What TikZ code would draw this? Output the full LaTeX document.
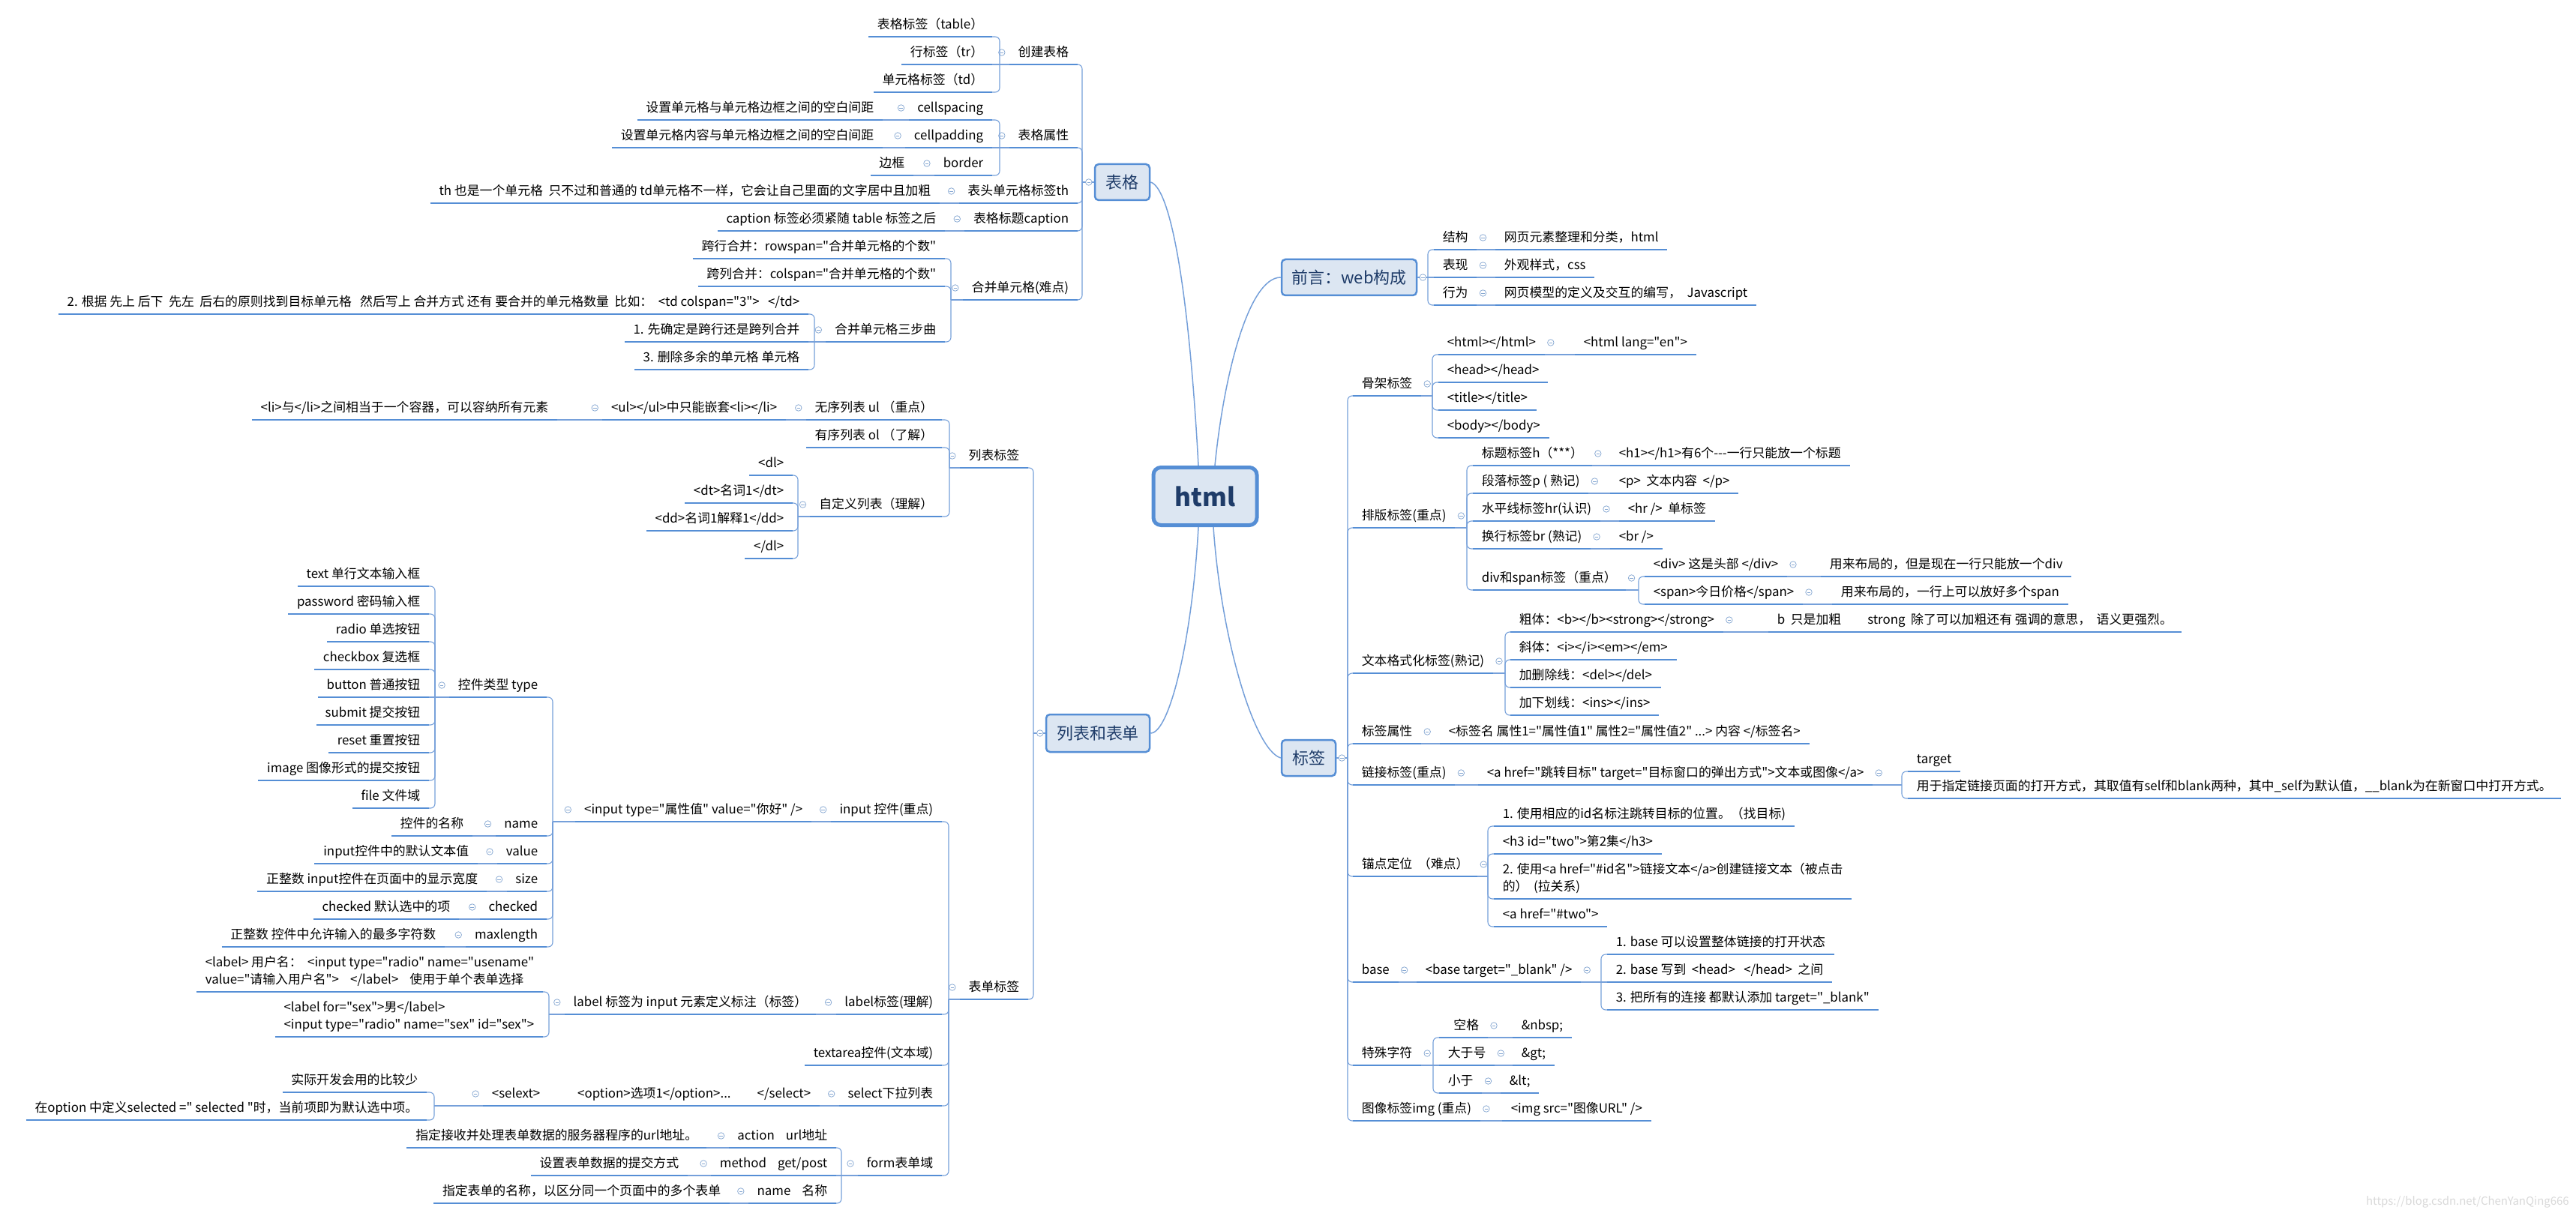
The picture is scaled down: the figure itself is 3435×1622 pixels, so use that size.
\documentclass[tikz,border=0pt]{standalone}
\usepackage{fontspec}
\setmainfont{Noto Sans CJK SC}[Ligatures=TeXOff]
\usetikzlibrary{calc}
\definecolor{ulc}{RGB}{85,142,213}
\definecolor{connc}{RGB}{118,160,218}
\definecolor{clc}{RGB}{135,168,210}
\definecolor{boxfill}{RGB}{220,230,242}
\definecolor{boxtext}{RGB}{31,60,105}
\newcommand\subfont{\fontsize{9.6}{13.1}\selectfont}
\newcommand\boxfont{\fontsize{12.5}{15}\selectfont}
\newcommand\htmlfont{\fontsize{19}{22}\selectfont\bfseries}
\tikzset{
  tbase/.style={inner xsep=2.3mm, inner ysep=1.1mm, font=\subfont, text=black, text depth=0.85mm},
  topic/.style={tbase, text height=2.55mm},
  mtopic/.style={tbase, align=left},
  ul/.style={draw=ulc, line width=0.55mm},
  conn/.style={draw=connc, line width=0.22mm},
  mconn/.style={draw=connc, line width=0.3mm},
  cl/.style={circle, draw=clc, fill=white, line width=0.15mm, minimum size=1.7mm, inner sep=0pt,
    path picture={\draw[clc, line width=0.15mm] ([xshift=-0.45mm]path picture bounding box.center) -- ([xshift=0.45mm]path picture bounding box.center);}},
  mbox/.style={draw=ulc, fill=boxfill, line width=0.5mm, rounded corners=1mm, font=\boxfont, text=boxtext, inner sep=0pt},
  hbox/.style={draw=ulc, fill=boxfill, line width=1mm, rounded corners=2mm, font=\htmlfont, text=boxtext, inner sep=0pt, minimum width=27.6mm, minimum height=15.4mm},
  wm/.style={font=\fontsize{8.5}{10}\selectfont, text=black!15, anchor=east, inner sep=0pt},
}
\newcommand\xLT[3]{\node[topic,anchor=south east] (#1) at (#2) {#3};\draw[ul] (#1.south west) -- (#1.south east);}
\newcommand\xLM[3]{\node[mtopic,anchor=south east] (#1) at (#2) {#3};\draw[ul] (#1.south west) -- (#1.south east);}
\newcommand\xRT[3]{\node[topic,anchor=south west] (#1) at (#2) {#3};\draw[ul] (#1.south west) -- (#1.south east);}
\newcommand\xRM[3]{\node[mtopic,anchor=south west] (#1) at (#2) {#3};\draw[ul] (#1.south west) -- (#1.south east);}
\newcommand\xLP[2]{\coordinate (#1-j) at (#2,0 |- #1.south west);\draw[conn] (#1.south west) -- (#1-j);\node[cl] (#1-c) at ([xshift=-2mm,yshift=3.2mm]#1.south west) {};}
\newcommand\xRP[2]{\coordinate (#1-j) at (#2,0 |- #1.south east);\draw[conn] (#1.south east) -- (#1-j);\node[cl] (#1-c) at ([xshift=1.6mm,yshift=3.2mm]#1.south east) {};}
\newcommand\xLC[2]{\draw[conn,rounded corners=1.2mm] (#1-j) |- (#2.south east);}
\newcommand\xRC[2]{\draw[conn,rounded corners=1.2mm] (#1-j) |- (#2.south west);}
\newcommand\xLS[2]{\draw[conn] (#1-j) -- (#2.south east);}
\newcommand\xRS[2]{\draw[conn] (#1-j) -- (#2.south west);}
\newcommand\xLH[2]{\draw[conn] (#1.south west) -- (#2.south east);\node[cl] (#1-c) at ([xshift=-2mm,yshift=3.2mm]#1.south west) {};}
\newcommand\xRH[2]{\draw[conn] (#1.south east) -- (#2.south west);\node[cl] (#1-c) at ([xshift=1.6mm,yshift=3.2mm]#1.south east) {};}
\begin{document}
\begin{tikzpicture}[x=0.2mm, y=-0.2mm]
\fill[white] (0,0) rectangle (3435,1622);
\useasboundingbox (0,0) rectangle (3435,1622);

% ===== center and main boxes =====
\node[hbox] (H) at (1607,662) {html};
\node[mbox, minimum width=14.6mm, minimum height=9.6mm] (T) at (1496.5,243) {表格};
\node[mbox, minimum width=27.6mm, minimum height=10mm] (L) at (1464,978) {列表和表单};
\node[mbox, minimum width=36mm, minimum height=9.6mm] (W) at (1799,370) {前言：web构成};
\node[mbox, minimum width=14.4mm, minimum height=9.6mm] (B) at (1745,1011) {标签};
\draw[mconn] ([xshift=-1.8mm]H.north) .. controls (1585,380) and (1560,250) .. (T.east);
\draw[mconn] ([xshift=2.6mm]H.north) .. controls (1632,500) and (1665,370) .. (W.west);
\draw[mconn] ([xshift=-1.8mm]H.south) .. controls (1590,850) and (1560,978) .. (L.east);
\draw[mconn] ([xshift=2.2mm]H.south) .. controls (1628,850) and (1672,1000) .. (B.west);

% ===== 表格 =====
\xLT{t1}{1437,86}{创建表格}
\xLT{t2}{1437,197}{表格属性}
\xLT{t3}{1437,271}{表头单元格标签th}
\xLT{t4}{1437,308}{表格标题caption}
\xLT{t5}{1437,400}{合并单元格(难点)}
\coordinate (T-j) at (1443,243);
\draw[conn] (T.west) -- (T-j);
\xLC{T}{t1}\xLC{T}{t2}\xLC{T}{t3}\xLC{T}{t4}\xLC{T}{t5}
\node[cl] (T-c) at ([xshift=-1.4mm]T.west) {};

\xLT{t11}{1323,49}{表格标签（table）}
\xLT{t12}{1323,86}{行标签（tr）}
\xLT{t13}{1323,123}{单元格标签（td）}
\xLP{t1}{1333}
\xLC{t1}{t11}\xLS{t1}{t12}\xLC{t1}{t13}

\xLT{t21}{1323,160}{cellspacing}
\xLT{t22}{1323,197}{cellpadding}
\xLT{t23}{1323,234}{border}
\xLP{t2}{1333}
\xLC{t2}{t21}\xLS{t2}{t22}\xLC{t2}{t23}
\xLT{t211}{1177,160}{设置单元格与单元格边框之间的空白间距}\xLH{t21}{t211}
\xLT{t221}{1177,197}{设置单元格内容与单元格边框之间的空白间距}\xLH{t22}{t221}
\xLT{t231}{1218,234}{边框}\xLH{t23}{t231}
\xLT{t31}{1253,271}{th 也是一个单元格\ \ 只不过和普通的 td单元格不一样，它会让自己里面的文字居中且加粗}\xLH{t3}{t31}
\xLT{t41}{1260,308}{caption 标签必须紧随 table 标签之后}\xLH{t4}{t41}

\xLT{t51}{1260,345}{跨行合并：rowspan="合并单元格的个数"}
\xLT{t52}{1260,382}{跨列合并：colspan="合并单元格的个数"}
\xLT{t53}{1260,456}{合并单元格三步曲}
\xLP{t5}{1268}
\xLC{t5}{t51}\xLC{t5}{t52}\xLC{t5}{t53}
\xLT{t531}{1078,419}{2. 根据 先上 后下\ \ 先左\ \ 后右的原则找到目标单元格\ \ \ 然后写上 合并方式 还有 要合并的单元格数量\ \ 比如：\ \ <td colspan="3">\ \ \ </td>}
\xLT{t532}{1078,456}{1. 先确定是跨行还是跨列合并}
\xLT{t533}{1078,493}{3. 删除多余的单元格 单元格}
\xLP{t53}{1086}
\xLC{t53}{t531}\xLS{t53}{t532}\xLC{t53}{t533}

% ===== 列表和表单 =====
\xLT{l1}{1371,624}{列表标签}
\xLT{l2}{1371,1333}{表单标签}
\coordinate (L-j) at (1378,978);
\draw[conn] (L.west) -- (L-j);
\xLC{L}{l1}\xLC{L}{l2}
\node[cl] (L-c) at ([xshift=-1.4mm]L.west) {};

\xLT{l11}{1256,560}{无序列表 ul （重点）}
\xLT{l12}{1256,597}{有序列表 ol （了解）}
\xLT{l13}{1256,689}{自定义列表（理解）}
\xLP{l1}{1266}
\xLC{l1}{l11}\xLC{l1}{l12}\xLC{l1}{l13}
\xLT{l111}{1048,560}{<ul></ul>中只能嵌套<li></li>}\xLH{l11}{l111}
\xLT{l1111}{743,560}{<li>与</li>之间相当于一个容器，可以容纳所有元素}\xLH{l111}{l1111}
\xLT{l131}{1057,634}{<dl>}
\xLT{l132}{1057,671}{<dt>名词1</dt>}
\xLT{l133}{1057,708}{<dd>名词1解释1</dd>}
\xLT{l134}{1057,745}{</dl>}
\xLP{l13}{1064}
\xLC{l13}{l131}\xLC{l13}{l132}\xLC{l13}{l133}\xLC{l13}{l134}

\xLT{l21}{1256,1096}{input 控件(重点)}
\xLT{l22}{1256,1353}{label标签(理解)}
\xLT{l23}{1256,1421}{textarea控件(文本域)}
\xLT{l24}{1256,1475}{select下拉列表}
\xLT{l25}{1256,1568}{form表单域}
\xLP{l2}{1265}
\xLC{l2}{l21}\xLC{l2}{l22}\xLC{l2}{l23}\xLC{l2}{l24}\xLC{l2}{l25}
\xLT{l211}{1082,1096}{<input type="属性值" value="你好" />}\xLH{l21}{l211}
\xLT{l2111}{729,930}{控件类型 type}
\xLT{l2112}{729,1115}{name}
\xLT{l2113}{729,1152}{value}
\xLT{l2114}{729,1189}{size}
\xLT{l2115}{729,1226}{checked}
\xLT{l2116}{729,1263}{maxlength}
\xLP{l211}{737}
\xLC{l211}{l2111}\xLC{l211}{l2112}\xLC{l211}{l2113}\xLC{l211}{l2114}\xLC{l211}{l2115}\xLC{l211}{l2116}
\xLT{ty1}{572,782}{text 单行文本输入框}
\xLT{ty2}{572,819}{password 密码输入框}
\xLT{ty3}{572,856}{radio 单选按钮}
\xLT{ty4}{572,893}{checkbox 复选框}
\xLT{ty5}{572,930}{button 普通按钮}
\xLT{ty6}{572,967}{submit 提交按钮}
\xLT{ty7}{572,1004}{reset 重置按钮}
\xLT{ty8}{572,1041}{image 图像形式的提交按钮}
\xLT{ty9}{572,1078}{file 文件域}
\xLP{l2111}{580}
\xLC{l2111}{ty1}\xLC{l2111}{ty2}\xLC{l2111}{ty3}\xLC{l2111}{ty4}\xLS{l2111}{ty5}
\xLC{l2111}{ty6}\xLC{l2111}{ty7}\xLC{l2111}{ty8}\xLC{l2111}{ty9}
\xLT{n1}{630,1115}{控件的名称}\xLH{l2112}{n1}
\xLT{n2}{637,1152}{input控件中的默认文本值}\xLH{l2113}{n2}
\xLT{n3}{649,1189}{正整数 input控件在页面中的显示宽度}\xLH{l2114}{n3}
\xLT{n4}{612,1226}{checked 默认选中的项}\xLH{l2115}{n4}
\xLT{n5}{593,1263}{正整数 控件中允许输入的最多字符数}\xLH{l2116}{n5}

\xLT{l221}{1088,1353}{label 标签为 input 元素定义标注（标签）}\xLH{l22}{l221}
\xLM{l2211}{724,1323}{<label> 用户名：\ \ <input type="radio" name="usename"\\value="请输入用户名">\ \ \ \ </label>\ \ \ \ 使用于单个表单选择}
\xLM{l2212}{724,1383}{<label for="sex">男</label>\\<input type="radio" name="sex" id="sex">}
\xLP{l221}{732}
\xLC{l221}{l2211}\xLC{l221}{l2212}

\xLT{l241}{1093,1475}{<selext>\hspace{10mm}<option>选项1</option>...\hspace{7mm}</select>}\xLH{l24}{l241}
\xLT{l2411}{569,1457}{实际开发会用的比较少}
\xLT{l2412}{569,1494}{在option 中定义selected =" selected "时，当前项即为默认选中项。}
\xLP{l241}{579}
\xLC{l241}{l2411}\xLC{l241}{l2412}

\xLT{l251}{1115,1531}{action\hspace{3mm}url地址}
\xLT{l252}{1115,1568}{method\hspace{3mm}get/post}
\xLT{l253}{1115,1605}{name\hspace{3mm}名称}
\xLP{l25}{1122}
\xLC{l25}{l251}\xLS{l25}{l252}\xLC{l25}{l253}
\xLT{l2511}{942,1531}{指定接收并处理表单数据的服务器程序的url地址。}\xLH{l251}{l2511}
\xLT{l2521}{917,1568}{设置表单数据的提交方式}\xLH{l252}{l2521}
\xLT{l2531}{973,1605}{指定表单的名称，以区分同一个页面中的多个表单}\xLH{l253}{l2531}

% ===== 前言 =====
\xRT{w1}{1912,333}{结构}
\xRT{w2}{1912,370}{表现}
\xRT{w3}{1912,407}{行为}
\coordinate (W-j) at (1904,370);
\draw[conn] (W.east) -- (W-j);
\xRC{W}{w1}\xRS{W}{w2}\xRC{W}{w3}
\node[cl] (W-c) at ([xshift=1.4mm]W.east) {};
\xRT{w11}{1994,333}{网页元素整理和分类，html}\xRH{w1}{w11}
\xRT{w21}{1994,370}{外观样式，css}\xRH{w2}{w21}
\xRT{w31}{1994,407}{网页模型的定义及交互的编写，\ \ Javascript}\xRH{w3}{w31}

% ===== 标签 =====
\xRT{b1}{1804,528}{骨架标签}
\xRT{b2}{1804,704}{排版标签(重点)}
\xRT{b3}{1804,898}{文本格式化标签(熟记)}
\xRT{b4}{1804,992}{标签属性}
\xRT{b5}{1804,1047}{链接标签(重点)}
\xRT{b6}{1804,1169}{锚点定位\ \ （难点）}
\xRT{b7}{1804,1310}{base}
\xRT{b8}{1804,1421}{特殊字符}
\xRT{b9}{1804,1495}{图像标签img (重点)}
\coordinate (B-j) at (1797,1011);
\draw[conn] (B.east) -- (B-j);
\xRC{B}{b1}\xRC{B}{b2}\xRC{B}{b3}\xRC{B}{b4}\xRC{B}{b5}\xRC{B}{b6}\xRC{B}{b7}\xRC{B}{b8}\xRC{B}{b9}
\node[cl] (B-c) at ([xshift=1.4mm]B.east) {};

\xRT{b11}{1918,473}{<html></html>}
\xRT{b12}{1918,510}{<head></head>}
\xRT{b13}{1918,547}{<title></title>}
\xRT{b14}{1918,584}{<body></body>}
\xRP{b1}{1910}
\xRC{b1}{b11}\xRC{b1}{b12}\xRC{b1}{b13}\xRC{b1}{b14}
\xRT{b111}{2100,473}{<html lang="en">}\xRH{b11}{b111}

\xRT{b21}{1964,621}{标题标签h（***）}
\xRT{b22}{1964,658}{段落标签p ( 熟记)}
\xRT{b23}{1964,695}{水平线标签hr(认识)}
\xRT{b24}{1964,732}{换行标签br (熟记)}
\xRT{b25}{1964,787}{div和span标签（重点）}
\xRP{b2}{1956}
\xRC{b2}{b21}\xRC{b2}{b22}\xRC{b2}{b23}\xRC{b2}{b24}\xRC{b2}{b25}
\xRT{b211}{2147,621}{<h1></h1>有6个---一行只能放一个标题}\xRH{b21}{b211}
\xRT{b221}{2147,658}{<p>\ \ 文本内容\ \ </p>}\xRH{b22}{b221}
\xRT{b231}{2159,695}{<hr />\ \ 单标签}\xRH{b23}{b231}
\xRT{b241}{2147,732}{<br />}\xRH{b24}{b241}
\xRT{b251}{2193,769}{<div> 这是头部 </div>}
\xRT{b252}{2193,806}{<span>今日价格</span>}
\xRP{b25}{2185}
\xRC{b25}{b251}\xRC{b25}{b252}
\xRT{b2511}{2428,769}{用来布局的，但是现在一行只能放一个div}\xRH{b251}{b2511}
\xRT{b2521}{2443,806}{用来布局的，一行上可以放好多个span}\xRH{b252}{b2521}

\xRT{b31}{2014,843}{粗体：<b></b><strong></strong>}
\xRT{b32}{2014,880}{斜体：<i></i><em></em>}
\xRT{b33}{2014,917}{加删除线：<del></del>}
\xRT{b34}{2014,954}{加下划线：<ins></ins>}
\xRP{b3}{2007}
\xRC{b3}{b31}\xRC{b3}{b32}\xRC{b3}{b33}\xRC{b3}{b34}
\xRT{b311}{2358,843}{b\ \ 只是加粗\hspace{7mm}strong\ \ 除了可以加粗还有 强调的意思，\ \ 语义更强烈。}\xRH{b31}{b311}

\xRT{b41}{1920,992}{<标签名 属性1="属性值1" 属性2="属性值2" ...> 内容 </标签名>}\xRH{b4}{b41}

\xRT{b51}{1971,1047}{<a href="跳转目标" target="目标窗口的弹出方式">文本或图像</a>}\xRH{b5}{b51}
\xRT{b511}{2544,1029}{target}
\xRT{b512}{2544,1065}{用于指定链接页面的打开方式，其取值有self和blank两种，其中\_self为默认值，\_\_blank为在新窗口中打开方式。}
\xRP{b51}{2536}
\xRC{b51}{b511}\xRC{b51}{b512}

\xRT{b61}{1992,1102}{1. 使用相应的id名标注跳转目标的位置。（找目标)}
\xRT{b62}{1992,1139}{<h3 id="two">第2集</h3>}
\xRM{b63}{1992,1199}{2. 使用<a href="\#id名">链接文本</a>创建链接文本（被点击\\的）\ \ (拉关系)}
\xRT{b64}{1992,1236}{<a href="\#two">}
\xRP{b6}{1984}
\xRC{b6}{b61}\xRC{b6}{b62}\xRC{b6}{b63}\xRC{b6}{b64}

\xRT{b71}{1889,1310}{<base target="\_blank" />}\xRH{b7}{b71}
\xRT{b711}{2143,1273}{1. base 可以设置整体链接的打开状态}
\xRT{b712}{2143,1310}{2. base 写到\ \ <head>\ \ \ </head>\ \ 之间}
\xRT{b713}{2143,1347}{3. 把所有的连接 都默认添加 target="\_blank"}
\xRP{b71}{2135}
\xRC{b71}{b711}\xRS{b71}{b712}\xRC{b71}{b713}

\xRT{b81}{1919,1384}{\ \ 空格}
\xRT{b82}{1919,1421}{大于号}
\xRT{b83}{1919,1458}{小于}
\xRP{b8}{1911}
\xRC{b8}{b81}\xRS{b8}{b82}\xRC{b8}{b83}
\xRT{b811}{2017,1384}{\&nbsp;}\xRH{b81}{b811}
\xRT{b821}{2017,1421}{\&gt;}\xRH{b82}{b821}
\xRT{b831}{2001,1458}{\&lt;}\xRH{b83}{b831}

\xRT{b91}{2003,1495}{<img src="图像URL" />}\xRH{b9}{b91}

\node[wm] (wm) at (3426,1603) {https://blog.csdn.net/ChenYanQing666};
\end{tikzpicture}
\end{document}
